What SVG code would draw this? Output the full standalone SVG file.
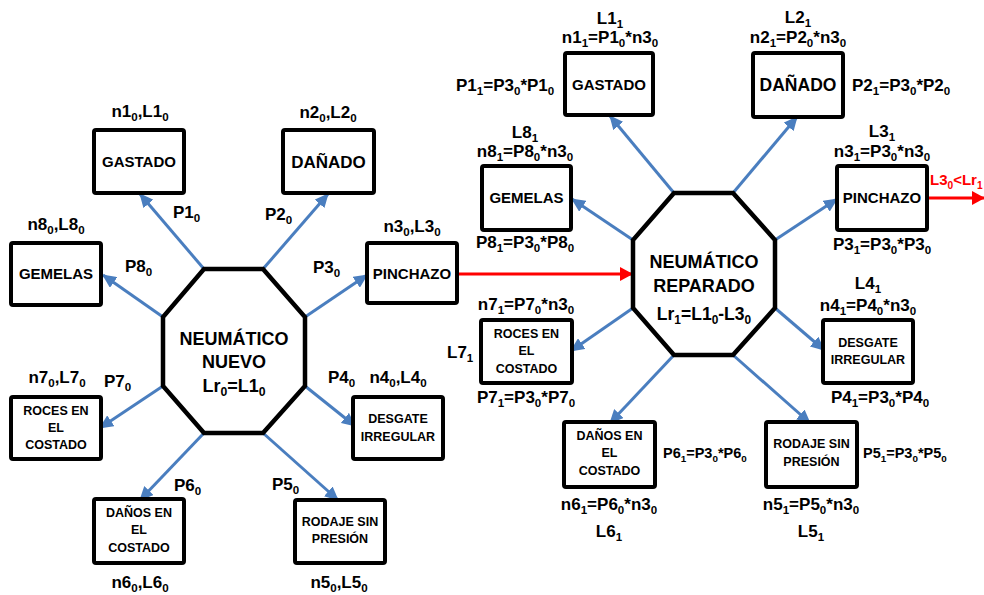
<svg xmlns="http://www.w3.org/2000/svg" width="984" height="595" viewBox="0 0 984 595">
<style>
text{font-family:"Liberation Sans",Arial,sans-serif;font-weight:bold;fill:#000}
.lb{font-size:17px}
.lr{font-size:17px}
.sm{font-size:14.5px}
.bx{font-size:15px}
.bs{font-size:12.5px}
.oc{font-size:18px}
.s{font-size:68%;baseline-shift:-4px}
.box{fill:#fff;stroke:#000;stroke-width:4;stroke-linejoin:round}
.oct{fill:#fff;stroke:#000;stroke-width:4.5;stroke-linejoin:miter}
.blue{stroke:#4A7EBF;stroke-width:3;fill:none;marker-end:url(#ab)}
.red{stroke:#FF0000;stroke-width:3;fill:none;marker-end:url(#ar)}
.m{text-anchor:middle}
</style>
<defs>
<marker id="ab" markerUnits="userSpaceOnUse" markerWidth="14" markerHeight="13" refX="13" refY="6.5" orient="auto"><path d="M0,0 L14,6.5 L0,13 z" fill="#4A7EBF"/></marker>
<marker id="ar" markerUnits="userSpaceOnUse" markerWidth="13" markerHeight="14" refX="12" refY="7" orient="auto"><path d="M0,0 L13,7 L0,14 z" fill="#FF0000"/></marker>
</defs>
<rect width="984" height="595" fill="#fff"/>

<g id="connectors">
<line class="blue" x1="204" y1="269" x2="140" y2="194"/>
<line class="blue" x1="263" y1="269" x2="328" y2="194"/>
<line class="blue" x1="163" y1="317" x2="103" y2="275"/>
<line class="blue" x1="305" y1="317" x2="367" y2="275"/>
<line class="blue" x1="163" y1="386" x2="100" y2="428"/>
<line class="blue" x1="305" y1="386" x2="355" y2="426"/>
<line class="blue" x1="204" y1="433" x2="140" y2="500"/>
<line class="blue" x1="263" y1="433" x2="338" y2="500"/>
<line class="blue" x1="674" y1="193" x2="610" y2="116"/>
<line class="blue" x1="733" y1="193" x2="797" y2="117"/>
<line class="blue" x1="633" y1="240" x2="572" y2="199"/>
<line class="blue" x1="775" y1="240" x2="837" y2="199"/>
<line class="blue" x1="633" y1="308" x2="571" y2="351"/>
<line class="blue" x1="775" y1="308" x2="824" y2="350"/>
<line class="blue" x1="674" y1="355" x2="610" y2="423"/>
<line class="blue" x1="733" y1="355" x2="810" y2="423"/>
<line class="red" x1="457" y1="274" x2="632" y2="274"/>
<line class="red" x1="927" y1="198" x2="984" y2="198"/>
<text x="930" y="185" style="fill:#FF0000;font-size:15px">L3<tspan class="s">0</tspan>&lt;Lr<tspan class="s">1</tspan></text>
<text class="lb" x="173" y="218">P1<tspan class="s">0</tspan></text>
<text class="lb" x="265" y="220">P2<tspan class="s">0</tspan></text>
<text class="lb" x="125" y="272">P8<tspan class="s">0</tspan></text>
<text class="lb" x="313" y="273">P3<tspan class="s">0</tspan></text>
<text class="lb" x="104" y="387">P7<tspan class="s">0</tspan></text>
<text class="lb" x="328" y="383">P4<tspan class="s">0</tspan></text>
<text class="lb" x="174" y="491">P6<tspan class="s">0</tspan></text>
<text class="lb" x="272" y="490">P5<tspan class="s">0</tspan></text>
</g>

<g id="nuevo">
<polygon class="oct" points="204,269 263,269 305,317 305,386 263,433 204,433 163,386 163,317"/>
<text class="oc m" x="234" y="345">NEUMÁTICO</text>
<text class="oc m" x="234" y="368">NUEVO</text>
<text class="oc m" x="234" y="392">Lr<tspan class="s">0</tspan>=L1<tspan class="s">0</tspan></text>
</g>

<g id="gastado0">
<rect class="box" x="94" y="130" width="90" height="63" rx="2"/>
<text class="bx m" x="139" y="167">GASTADO</text>
<text class="lb m" x="140" y="117">n1<tspan class="s">0</tspan>,L1<tspan class="s">0</tspan></text>
</g>
<g id="danado0">
<rect class="box" x="283" y="130" width="91" height="63" rx="2"/>
<text class="m" style="font-size:17px" x="328.5" y="168">DAÑADO</text>
<text class="lb m" x="328" y="118">n2<tspan class="s">0</tspan>,L2<tspan class="s">0</tspan></text>
</g>
<g id="gemelas0">
<rect class="box" x="11" y="243" width="90" height="62" rx="2"/>
<text class="bx m" x="56" y="279">GEMELAS</text>
<text class="lb m" x="56" y="230">n8<tspan class="s">0</tspan>,L8<tspan class="s">0</tspan></text>
</g>
<g id="pinchazo0">
<rect class="box" x="367" y="243" width="90" height="60" rx="2"/>
<text class="bx m" x="412" y="279">PINCHAZO</text>
<text class="lb m" x="412" y="232">n3<tspan class="s">0</tspan>,L3<tspan class="s">0</tspan></text>
</g>
<g id="roces0">
<rect class="box" x="11" y="397" width="90" height="62" rx="2"/>
<text class="bs m" x="56" y="415">ROCES EN</text>
<text class="bs m" x="56" y="432">EL</text>
<text class="bs m" x="56" y="449">COSTADO</text>
<text class="lb m" x="57" y="383">n7<tspan class="s">0</tspan>,L7<tspan class="s">0</tspan></text>
</g>
<g id="desgate0">
<rect class="box" x="353" y="397" width="90" height="62" rx="2"/>
<text class="bs m" x="398" y="423">DESGATE</text>
<text class="bs m" x="398" y="441">IRREGULAR</text>
<text class="lb m" x="398" y="383">n4<tspan class="s">0</tspan>,L4<tspan class="s">0</tspan></text>
</g>
<g id="danos0">
<rect class="box" x="94" y="499" width="90" height="64" rx="2"/>
<text class="bs m" x="139" y="517">DAÑOS EN</text>
<text class="bs m" x="139" y="534">EL</text>
<text class="bs m" x="139" y="552">COSTADO</text>
<text class="lb m" x="140" y="588">n6<tspan class="s">0</tspan>,L6<tspan class="s">0</tspan></text>
</g>
<g id="rodaje0">
<rect class="box" x="295" y="500" width="90" height="63" rx="2"/>
<text class="bs m" x="340" y="526">RODAJE SIN</text>
<text class="bs m" x="340" y="543">PRESIÓN</text>
<text class="lb m" x="339" y="588">n5<tspan class="s">0</tspan>,L5<tspan class="s">0</tspan></text>
</g>

<g id="reparado">
<polygon class="oct" points="674,193 733,193 775,240 775,308 733,355 674,355 633,308 633,240"/>
<text class="oc m" x="704" y="268">NEUMÁTICO</text>
<text class="oc m" x="704" y="292">REPARADO</text>
<text class="oc m" x="704" y="320" style="font-size:17.5px">Lr<tspan class="s">1</tspan>=L1<tspan class="s">0</tspan>-L3<tspan class="s">0</tspan></text>
</g>

<g id="gastado1">
<rect class="box" x="565" y="53" width="88" height="62" rx="2"/>
<text class="bx m" x="609" y="90">GASTADO</text>
<text class="lr m" x="610" y="24">L1<tspan class="s">1</tspan></text>
<text class="lr m" x="610" y="43">n1<tspan class="s">1</tspan>=P1<tspan class="s">0</tspan>*n3<tspan class="s">0</tspan></text>
<text class="lr" x="456" y="91">P1<tspan class="s">1</tspan>=P3<tspan class="s">0</tspan>*P1<tspan class="s">0</tspan></text>
</g>
<g id="danado1">
<rect class="box" x="753" y="53" width="90" height="64" rx="2"/>
<text class="m" style="font-size:17.5px" x="798" y="91">DAÑADO</text>
<text class="lr m" x="798" y="23">L2<tspan class="s">1</tspan></text>
<text class="lr m" x="798" y="43">n2<tspan class="s">1</tspan>=P2<tspan class="s">0</tspan>*n3<tspan class="s">0</tspan></text>
<text class="lr" x="852" y="91">P2<tspan class="s">1</tspan>=P3<tspan class="s">0</tspan>*P2<tspan class="s">0</tspan></text>
</g>
<g id="gemelas1">
<rect class="box" x="482" y="166" width="89" height="64" rx="2"/>
<text class="bx m" x="526.5" y="203">GEMELAS</text>
<text class="lr m" x="525" y="138">L8<tspan class="s">1</tspan></text>
<text class="lr m" x="525" y="157">n8<tspan class="s">1</tspan>=P8<tspan class="s">0</tspan>*n3<tspan class="s">0</tspan></text>
<text class="lr m" x="525" y="248">P8<tspan class="s">1</tspan>=P3<tspan class="s">0</tspan>*P8<tspan class="s">0</tspan></text>
</g>
<g id="pinchazo1">
<rect class="box" x="837" y="166" width="90" height="64" rx="2"/>
<text class="bx m" x="882" y="203">PINCHAZO</text>
<text class="lr m" x="882" y="137">L3<tspan class="s">1</tspan></text>
<text class="lr m" x="882" y="157">n3<tspan class="s">1</tspan>=P3<tspan class="s">0</tspan>*n3<tspan class="s">0</tspan></text>
<text class="lr m" x="882" y="250">P3<tspan class="s">1</tspan>=P3<tspan class="s">0</tspan>*P3<tspan class="s">0</tspan></text>
</g>
<g id="roces1">
<rect class="box" x="481" y="320" width="91" height="63" rx="2"/>
<text class="bs m" x="526.5" y="338">ROCES EN</text>
<text class="bs m" x="526.5" y="355">EL</text>
<text class="bs m" x="526.5" y="373">COSTADO</text>
<text class="lr m" x="526" y="310">n7<tspan class="s">1</tspan>=P7<tspan class="s">0</tspan>*n3<tspan class="s">0</tspan></text>
<text class="lr" x="447" y="358">L7<tspan class="s">1</tspan></text>
<text class="lr m" x="526" y="403">P7<tspan class="s">1</tspan>=P3<tspan class="s">0</tspan>*P7<tspan class="s">0</tspan></text>
</g>
<g id="desgate1">
<rect class="box" x="823" y="320" width="90" height="63" rx="2"/>
<text class="bs m" x="868" y="347">DESGATE</text>
<text class="bs m" x="868" y="364">IRREGULAR</text>
<text class="lr m" x="868" y="289">L4<tspan class="s">1</tspan></text>
<text class="lr m" x="868" y="311">n4<tspan class="s">1</tspan>=P4<tspan class="s">0</tspan>*n3<tspan class="s">0</tspan></text>
<text class="lr m" x="880" y="403">P4<tspan class="s">1</tspan>=P3<tspan class="s">0</tspan>*P4<tspan class="s">0</tspan></text>
</g>
<g id="danos1">
<rect class="box" x="564" y="422" width="91" height="65" rx="2"/>
<text class="bs m" x="609.5" y="440">DAÑOS EN</text>
<text class="bs m" x="609.5" y="457">EL</text>
<text class="bs m" x="609.5" y="475">COSTADO</text>
<text class="lr m" x="609" y="510">n6<tspan class="s">1</tspan>=P6<tspan class="s">0</tspan>*n3<tspan class="s">0</tspan></text>
<text class="lr m" x="609" y="537">L6<tspan class="s">1</tspan></text>
<text class="sm" x="663" y="458">P6<tspan class="s">1</tspan>=P3<tspan class="s">0</tspan>*P6<tspan class="s">0</tspan></text>
</g>
<g id="rodaje1">
<rect class="box" x="766" y="422" width="91" height="65" rx="2"/>
<text class="bs m" x="811.5" y="448">RODAJE SIN</text>
<text class="bs m" x="811.5" y="466">PRESIÓN</text>
<text class="lr m" x="811" y="510">n5<tspan class="s">1</tspan>=P5<tspan class="s">0</tspan>*n3<tspan class="s">0</tspan></text>
<text class="lr m" x="811" y="537">L5<tspan class="s">1</tspan></text>
<text class="sm" x="863" y="458">P5<tspan class="s">1</tspan>=P3<tspan class="s">0</tspan>*P5<tspan class="s">0</tspan></text>
</g>
</svg>
